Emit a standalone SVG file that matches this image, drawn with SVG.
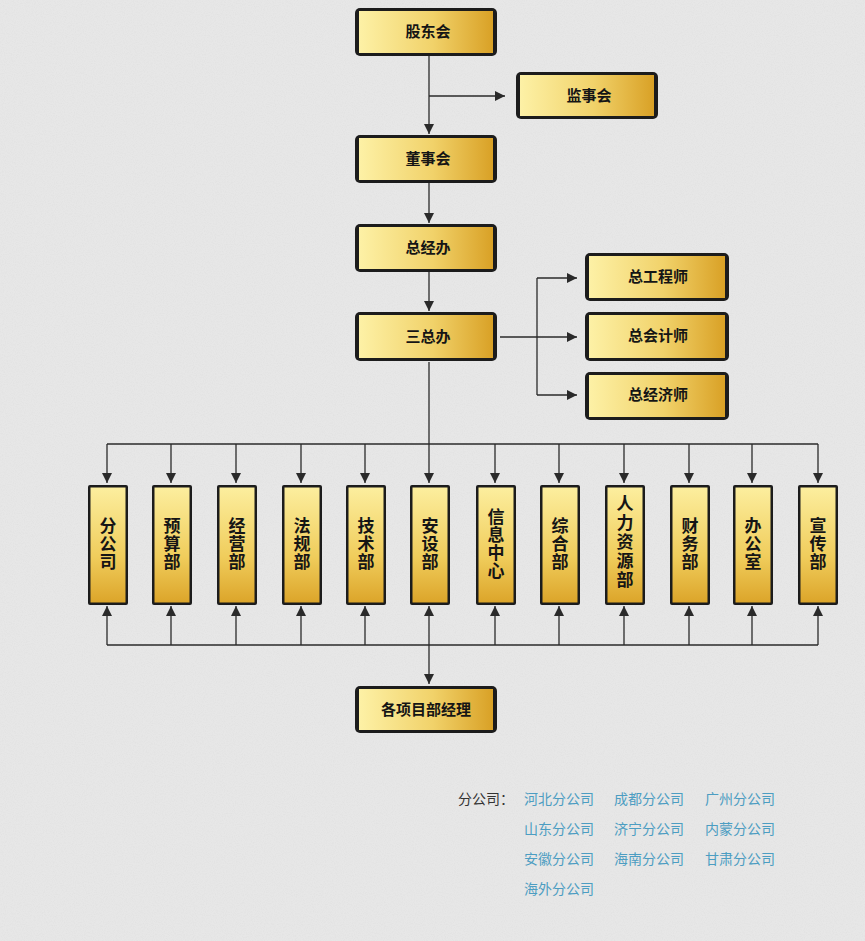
<svg xmlns="http://www.w3.org/2000/svg" width="865" height="941" viewBox="0 0 865 941">
<defs>
<linearGradient id="gh" x1="0" y1="0" x2="1" y2="0">
<stop offset="0" stop-color="#fdf1a6"/>
<stop offset="0.55" stop-color="#f1d26a"/>
<stop offset="1" stop-color="#d9a126"/>
</linearGradient>
<linearGradient id="gv" x1="0" y1="0" x2="0" y2="1">
<stop offset="0" stop-color="#fcee9e"/>
<stop offset="0.6" stop-color="#f0cd5c"/>
<stop offset="1" stop-color="#dca52a"/>
</linearGradient>
<filter id="noise" x="0" y="0" width="100%" height="100%">
<feTurbulence type="fractalNoise" baseFrequency="0.9" numOctaves="2" seed="3" result="n"/>
<feColorMatrix type="matrix" values="0 0 0 0 0.5  0 0 0 0 0.5  0 0 0 0 0.5  0 0 0 -0.9 0.55" />
</filter>
<marker id="ar" viewBox="0 0 10 10" refX="10" refY="5" markerWidth="10" markerHeight="10" markerUnits="userSpaceOnUse" orient="auto">
<path d="M0,0 L10,5 L0,10 z" fill="#2a2a2a"/>
</marker>
</defs>
<style>
.frame{fill:#1c1c1c}
.hb{fill:url(#gh)}
.vb{fill:url(#gv)}
.t{font-family:"Noto Sans CJK SC","Noto Sans",sans-serif;font-weight:bold;font-size:15px;fill:#151515;text-anchor:middle}
.vt{font-family:"Noto Sans CJK SC","Noto Sans",sans-serif;font-weight:bold;font-size:17px;fill:#151515;text-anchor:middle;writing-mode:vertical-rl;letter-spacing:1px}
.vt5{letter-spacing:2px}
.ln{fill:none;stroke:#2a2a2a;stroke-width:1.3}
.lbl{font-family:"Noto Sans CJK SC","Noto Sans",sans-serif;font-size:14px;fill:#333}
.lk{font-family:"Noto Sans CJK SC","Noto Sans",sans-serif;font-size:14px;fill:#4c9dc2}
</style>
<rect width="865" height="941" fill="#e7e7e7"/>
<rect width="865" height="941" filter="url(#noise)" opacity="0.25"/>

<g id="connectors">
<path class="ln" d="M429,56 V134" marker-end="url(#ar)"/>
<path class="ln" d="M429,96 H505" marker-end="url(#ar)"/>
<path class="ln" d="M429,183 V223" marker-end="url(#ar)"/>
<path class="ln" d="M429,272 V311" marker-end="url(#ar)"/>
<path class="ln" d="M500,337 H577" marker-end="url(#ar)"/>
<path class="ln" d="M537,278 V395"/>
<path class="ln" d="M537,278 H577" marker-end="url(#ar)"/>
<path class="ln" d="M537,395 H577" marker-end="url(#ar)"/>
<path class="ln" d="M429,362 V483" marker-end="url(#ar)"/>
<path class="ln" d="M107,444 H818"/>
<path class="ln" d="M107,444 V483" marker-end="url(#ar)"/>
<path class="ln" d="M171,444 V483" marker-end="url(#ar)"/>
<path class="ln" d="M236,444 V483" marker-end="url(#ar)"/>
<path class="ln" d="M301,444 V483" marker-end="url(#ar)"/>
<path class="ln" d="M365,444 V483" marker-end="url(#ar)"/>
<path class="ln" d="M495,444 V483" marker-end="url(#ar)"/>
<path class="ln" d="M559,444 V483" marker-end="url(#ar)"/>
<path class="ln" d="M624,444 V483" marker-end="url(#ar)"/>
<path class="ln" d="M689,444 V483" marker-end="url(#ar)"/>
<path class="ln" d="M752,444 V483" marker-end="url(#ar)"/>
<path class="ln" d="M818,444 V483" marker-end="url(#ar)"/>
<path class="ln" d="M107,645 H818"/>
<path class="ln" d="M107,645 V606" marker-end="url(#ar)"/>
<path class="ln" d="M171,645 V606" marker-end="url(#ar)"/>
<path class="ln" d="M236,645 V606" marker-end="url(#ar)"/>
<path class="ln" d="M301,645 V606" marker-end="url(#ar)"/>
<path class="ln" d="M365,645 V606" marker-end="url(#ar)"/>
<path class="ln" d="M429,645 V606" marker-end="url(#ar)"/>
<path class="ln" d="M495,645 V606" marker-end="url(#ar)"/>
<path class="ln" d="M559,645 V606" marker-end="url(#ar)"/>
<path class="ln" d="M624,645 V606" marker-end="url(#ar)"/>
<path class="ln" d="M689,645 V606" marker-end="url(#ar)"/>
<path class="ln" d="M752,645 V606" marker-end="url(#ar)"/>
<path class="ln" d="M818,645 V606" marker-end="url(#ar)"/>
<path class="ln" d="M429,645 V684" marker-end="url(#ar)"/>
</g>

<g id="gudonghui"><rect class="frame" x="355" y="8" width="142" height="48" rx="5"/><rect class="hb" x="359" y="11" width="134" height="42"/><text class="t" x="428" y="37">股东会</text></g>
<g id="jianshihui"><rect class="frame" x="516" y="72" width="142" height="47" rx="5"/><rect class="hb" x="520" y="75" width="134" height="41"/><text class="t" x="589" y="101">监事会</text></g>
<g id="dongshihui"><rect class="frame" x="355" y="135" width="142" height="48" rx="5"/><rect class="hb" x="359" y="138" width="134" height="42"/><text class="t" x="428" y="164">董事会</text></g>
<g id="zongjingban"><rect class="frame" x="355" y="224" width="142" height="48" rx="5"/><rect class="hb" x="359" y="227" width="134" height="42"/><text class="t" x="428" y="253">总经办</text></g>
<g id="sanzongban"><rect class="frame" x="355" y="312" width="142" height="49" rx="5"/><rect class="hb" x="359" y="315" width="134" height="43"/><text class="t" x="428" y="342">三总办</text></g>
<g id="zonggongchengshi"><rect class="frame" x="585" y="253" width="144" height="48" rx="5"/><rect class="hb" x="589" y="256" width="136" height="42"/><text class="t" x="658" y="282">总工程师</text></g>
<g id="zongkuaijishi"><rect class="frame" x="585" y="312" width="144" height="49" rx="5"/><rect class="hb" x="589" y="315" width="136" height="43"/><text class="t" x="658" y="341">总会计师</text></g>
<g id="zongjingjishi"><rect class="frame" x="585" y="372" width="144" height="48" rx="5"/><rect class="hb" x="589" y="375" width="136" height="42"/><text class="t" x="658" y="400">总经济师</text></g>

<g id="fengongsi"><rect class="frame" x="88" y="485" width="40" height="120" rx="2"/><rect class="vb" x="90.5" y="487.5" width="35" height="115"/><text class="vt" x="108" y="544">分公司</text></g>
<g id="yusuanbu"><rect class="frame" x="152" y="485" width="40" height="120" rx="2"/><rect class="vb" x="154.5" y="487.5" width="35" height="115"/><text class="vt" x="172" y="544">预算部</text></g>
<g id="jingyingbu"><rect class="frame" x="217" y="485" width="40" height="120" rx="2"/><rect class="vb" x="219.5" y="487.5" width="35" height="115"/><text class="vt" x="237" y="544">经营部</text></g>
<g id="faguibu"><rect class="frame" x="282" y="485" width="40" height="120" rx="2"/><rect class="vb" x="284.5" y="487.5" width="35" height="115"/><text class="vt" x="302" y="544">法规部</text></g>
<g id="jishubu"><rect class="frame" x="346" y="485" width="40" height="120" rx="2"/><rect class="vb" x="348.5" y="487.5" width="35" height="115"/><text class="vt" x="366" y="544">技术部</text></g>
<g id="anshebu"><rect class="frame" x="410" y="485" width="40" height="120" rx="2"/><rect class="vb" x="412.5" y="487.5" width="35" height="115"/><text class="vt" x="430" y="544">安设部</text></g>
<g id="xinxizhongxin"><rect class="frame" x="476" y="485" width="40" height="120" rx="2"/><rect class="vb" x="478.5" y="487.5" width="35" height="115"/><text class="vt" x="496" y="544">信息中心</text></g>
<g id="zonghebu"><rect class="frame" x="540" y="485" width="40" height="120" rx="2"/><rect class="vb" x="542.5" y="487.5" width="35" height="115"/><text class="vt" x="560" y="544">综合部</text></g>
<g id="renliziyuanbu"><rect class="frame" x="605" y="485" width="40" height="120" rx="2"/><rect class="vb" x="607.5" y="487.5" width="35" height="115"/><text class="vt vt5" x="625" y="543">人力资源部</text></g>
<g id="caiwubu"><rect class="frame" x="670" y="485" width="40" height="120" rx="2"/><rect class="vb" x="672.5" y="487.5" width="35" height="115"/><text class="vt" x="690" y="544">财务部</text></g>
<g id="bangongshi"><rect class="frame" x="733" y="485" width="40" height="120" rx="2"/><rect class="vb" x="735.5" y="487.5" width="35" height="115"/><text class="vt" x="753" y="544">办公室</text></g>
<g id="xuanchuanbu"><rect class="frame" x="798" y="485" width="40" height="120" rx="2"/><rect class="vb" x="800.5" y="487.5" width="35" height="115"/><text class="vt" x="818" y="544">宣传部</text></g>

<g id="gexiangmubujingli"><rect class="frame" x="355" y="686" width="142" height="47" rx="5"/><rect class="hb" x="359" y="689" width="134" height="41"/><text class="t" x="426" y="715">各项目部经理</text></g>

<g id="branches">
<text class="lbl" x="458" y="804">分公司：</text>
<text class="lk" x="524" y="804">河北分公司</text>
<text class="lk" x="614" y="804">成都分公司</text>
<text class="lk" x="705" y="804">广州分公司</text>
<text class="lk" x="524" y="834">山东分公司</text>
<text class="lk" x="614" y="834">济宁分公司</text>
<text class="lk" x="705" y="834">内蒙分公司</text>
<text class="lk" x="524" y="864">安徽分公司</text>
<text class="lk" x="614" y="864">海南分公司</text>
<text class="lk" x="705" y="864">甘肃分公司</text>
<text class="lk" x="524" y="894">海外分公司</text>
</g>
</svg>
